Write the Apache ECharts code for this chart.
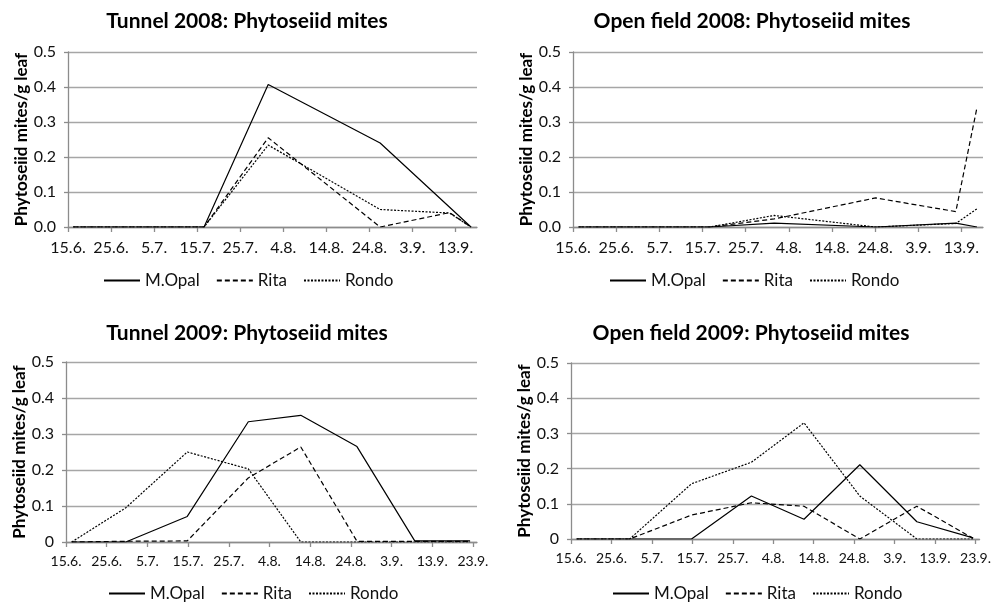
<!DOCTYPE html>
<html>
<head>
<meta charset="utf-8">
<script src="https://cdn.jsdelivr.net/npm/echarts@6/dist/echarts.min.js"></script>
<style>
html,body{margin:0;padding:0;background:#fff;}
#c{width:994px;height:605px;}
</style>
</head>
<body>
<div id="c"></div>
<script>
// ---- tick labels (x = days after 15.6.) ----
const tickDays2008 = [0, 10, 20, 30, 40, 50, 60, 70, 80, 90];
const tickLabels2008 = ['15.6.', '25.6.', '5.7.', '15.7.', '25.7.', '4.8.', '14.8.', '24.8.', '3.9.', '13.9.'];
const tickDays2009 = [0, 10, 20, 30, 40, 50, 60, 70, 80, 90, 100];
const tickLabels2009 = ['15.6.', '25.6.', '5.7.', '15.7.', '25.7.', '4.8.', '14.8.', '24.8.', '3.9.', '13.9.', '23.9.'];
const yTicks = [0, 0.1, 0.2, 0.3, 0.4, 0.5];

const seriesNames = ['M.Opal', 'Rita', 'Rondo'];
const panelTitles = ['Tunnel 2008: Phytoseiid mites', 'Open field 2008: Phytoseiid mites',
                     'Tunnel 2009: Phytoseiid mites', 'Open field 2009: Phytoseiid mites'];
const yAxisTitle = 'Phytoseiid mites/g leaf';

// ---- Tunnel 2008 ----
const daysTunnel2008 = [1.2, 31.6, 46.5, 72.5, 88.6, 93.6];
const tunnel2008Opal = [0, 0, 0.407, 0.240, null, 0];
const tunnel2008Rita = [0, 0, 0.255, 0, 0.041, 0];
const tunnel2008Rondo = [0, 0, 0.234, 0.050, 0.040, 0];

// ---- Open field 2008 ----
const daysOpen2008 = [1.3, 31.7, 46.6, 70.1, 88.7, 93.6];
const open2008Opal = [0, 0, 0.011, 0, 0.011, 0];
const open2008Rita = [0, 0, 0.023, 0.083, 0.044, 0.341];
const open2008Rondo = [0, 0, 0.033, 0, 0.010, 0.052];

// ---- Tunnel 2009 ----
const daysTunnel2009 = [1.4, 14.7, 29.8, 44.8, 57.7, 71.5, 85.7, 99.3];
const tunnel2009Opal = [0, 0, 0.071, 0.334, 0.352, 0.265, 0.003, 0.003];
const tunnel2009Rita = [0, 0.002, 0.003, 0.178, 0.264, 0.002, 0.002, 0.002];
const tunnel2009Rondo = [0, 0.095, 0.250, 0.203, 0, 0, 0, 0];

// ---- Open field 2009 ----
const daysOpen2009 = [1.4, 14.5, 29.8, 44.6, 57.6, 71.4, 85.5, 99.4];
const open2009Opal = [0, 0, 0, 0.122, 0.056, 0.211, 0.049, 0.003];
const open2009Rita = [0, 0, 0.068, 0.103, 0.093, 0, 0.093, 0.002];
const open2009Rondo = [0, 0, 0.157, 0.218, 0.330, 0.122, 0, 0];

const FONT = 'Lato';
const grids = [
  {left: 68, top: 52, width: 409, height: 175},
  {left: 573, top: 52, width: 410, height: 175},
  {left: 66, top: 362, width: 411, height: 180},
  {left: 571, top: 363, width: 411, height: 176}
];
const panels = [
  {days: daysTunnel2008, vals: [tunnel2008Opal, tunnel2008Rita, tunnel2008Rondo], ticks: tickDays2008, labels: tickLabels2008, max: 95, xFont: 16, xMargin: 13, zeroLabel: '0.0'},
  {days: daysOpen2008, vals: [open2008Opal, open2008Rita, open2008Rondo], ticks: tickDays2008, labels: tickLabels2008, max: 95, xFont: 16, xMargin: 13, zeroLabel: '0.0'},
  {days: daysTunnel2009, vals: [tunnel2009Opal, tunnel2009Rita, tunnel2009Rondo], ticks: tickDays2009, labels: tickLabels2009, max: 101, xFont: 14, xMargin: 12, zeroLabel: '0'},
  {days: daysOpen2009, vals: [open2009Opal, open2009Rita, open2009Rondo], ticks: tickDays2009, labels: tickLabels2009, max: 101, xFont: 14, xMargin: 12, zeroLabel: '0'}
];
const titlePos = [[242, 6], [747, 6], [242, 318], [746, 318]];
const legendPos = [[98, 267], [604, 267], [103, 580], [607, 580]];
const lineTypes = ['solid', [5, 3], [2, 1.5]];

const option = {
  animation: false,
  backgroundColor: '#fff',
  title: [], grid: [], xAxis: [], yAxis: [], legend: [], series: []
};

panels.forEach((p, i) => {
  option.title.push({
    text: panelTitles[i], left: titlePos[i][0], top: titlePos[i][1], textAlign: 'center',
    textStyle: {fontFamily: FONT, fontWeight: 'bold', fontSize: 21, color: '#000'}
  });
  option.grid.push(Object.assign({containLabel: false}, grids[i]));
  option.xAxis.push({
    type: 'value', gridIndex: i, min: 0, max: p.max,
    axisLine: {show: true, onZero: false, lineStyle: {color: '#8c8c8c', width: 1.3}},
    axisTick: {show: true, length: 5, customValues: p.ticks, lineStyle: {color: '#8c8c8c', width: 1.3}},
    axisLabel: {customValues: p.ticks, margin: p.xMargin, fontFamily: FONT, fontSize: p.xFont, color: '#111',
      formatter: (v) => { const k = p.ticks.indexOf(Math.round(v)); return k >= 0 ? p.labels[k] : ''; }},
    splitLine: {show: false}
  });
  option.yAxis.push({
    type: 'value', gridIndex: i, min: 0, max: 0.5, interval: 0.1,
    name: yAxisTitle, nameLocation: 'middle', nameGap: 38,
    nameTextStyle: {fontFamily: FONT, fontWeight: 'bold', fontSize: 17, color: '#000'},
    axisLine: {show: true, lineStyle: {color: '#8c8c8c', width: 1.3}},
    axisTick: {show: true, length: 4, lineStyle: {color: '#8c8c8c', width: 1.3}},
    axisLabel: {margin: 12, fontFamily: FONT, fontSize: 16, color: '#111',
      formatter: (v) => v === 0 ? p.zeroLabel : v.toFixed(1)},
    splitLine: {show: true, lineStyle: {color: '#a6a6a6', width: 1.3}}
  });
  option.legend.push({
    data: seriesNames, left: legendPos[i][0], top: legendPos[i][1],
    itemWidth: 36, itemHeight: 14, itemGap: 16,
    itemStyle: {opacity: 0, borderWidth: 0},
    textStyle: {fontFamily: FONT, fontSize: 17, color: '#111'}
  });
  seriesNames.forEach((name, s) => {
    option.series.push({
      type: 'line', name: name, xAxisIndex: i, yAxisIndex: i,
      symbol: 'none', connectNulls: true,
      lineStyle: {color: '#000', width: 1.2, type: lineTypes[s]},
      itemStyle: {color: '#000'},
      data: p.days.map((d, k) => [d, p.vals[s][k]])
    });
  });
});

const chart = echarts.init(document.getElementById('c'), null, {renderer: 'canvas'});
chart.setOption(option);
</script>
</body>
</html>
